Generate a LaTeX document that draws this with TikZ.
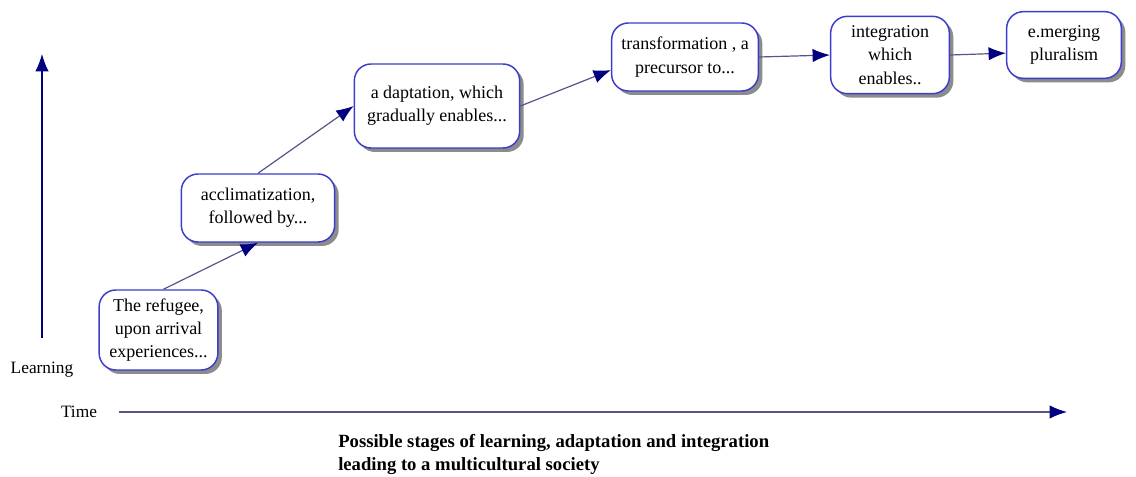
\documentclass[tikz,border=0pt]{standalone}
\usepackage{fontspec}
\setmainfont{Liberation Serif}
\usetikzlibrary{shadows,arrows.meta}
\definecolor{boxblue}{RGB}{60,60,205}
\definecolor{navy}{RGB}{0,0,128}
\definecolor{linkgray}{RGB}{85,85,140}
\begin{document}
\begin{tikzpicture}[x=0.75pt,y=-0.75pt,
  stage/.style={draw=boxblue,line width=1.1pt,fill=white,rounded corners=12.5pt,
    align=center,inner sep=2pt,font=\fontsize{13.5pt}{17.5pt}\selectfont,
    drop shadow={shadow xshift=3pt,shadow yshift=-3pt,fill=black!45,opacity=1}},
  link/.style={draw=linkgray,line width=0.9pt,-{Latex[length=13pt,width=10pt,color=navy]}},
  axis/.style={draw=navy,line width=0.9pt,-{Latex[length=13pt,width=10pt,color=navy]}},
  lbl/.style={font=\fontsize{13pt}{15pt}\selectfont,inner sep=0pt}]
\useasboundingbox (0,0) rectangle (1136,477);
% stages, left to right
\node[stage,minimum width=89pt,minimum height=60pt] (refugee) at (158.5,330) {The refugee,\\upon arrival\\experiences...};
\node[stage,minimum width=115pt,minimum height=51pt] (acclim) at (258,208) {acclimatization,\\followed by...};
\node[stage,minimum width=124pt,minimum height=63pt] (adapt) at (437,106) {a daptation, which\\gradually enables...};
\node[stage,minimum width=110pt,minimum height=51pt] (transf) at (685,57) {transformation , a\\precursor to...};
\node[stage,minimum width=89pt,minimum height=58pt] (integ) at (890,55) {integration\\which\\enables..};
\node[stage,minimum width=86pt,minimum height=50pt] (emerg) at (1064,45) {e.merging\\pluralism};
\draw[link] (refugee.north) ++(5,0) -- (acclim.south);
\draw[link] (acclim.north) -- (adapt.west);
\draw[link] (adapt.east) -- (transf.190);
\draw[link] (transf.east) -- (integ.west);
\draw[link] (integ.east) -- (emerg.188);
\node[lbl] (learn) at (42,370) {Learning};
\node[lbl] (time) at (79,412) {Time};
\coordinate (ytop) at (42,54);
\coordinate (ybot) at (42,338);
\coordinate (xleft) at (119,412);
\coordinate (xright) at (1067,412);
\draw[axis] (ybot) -- (ytop);
\draw[link] (xleft) -- (xright);
\node[anchor=north west,align=left,inner sep=0pt,font=\bfseries\fontsize{14pt}{17pt}\selectfont] (caption) at (338,434)
  {Possible stages of learning, adaptation and integration\\leading to a multicultural society};
\end{tikzpicture}
\end{document}
